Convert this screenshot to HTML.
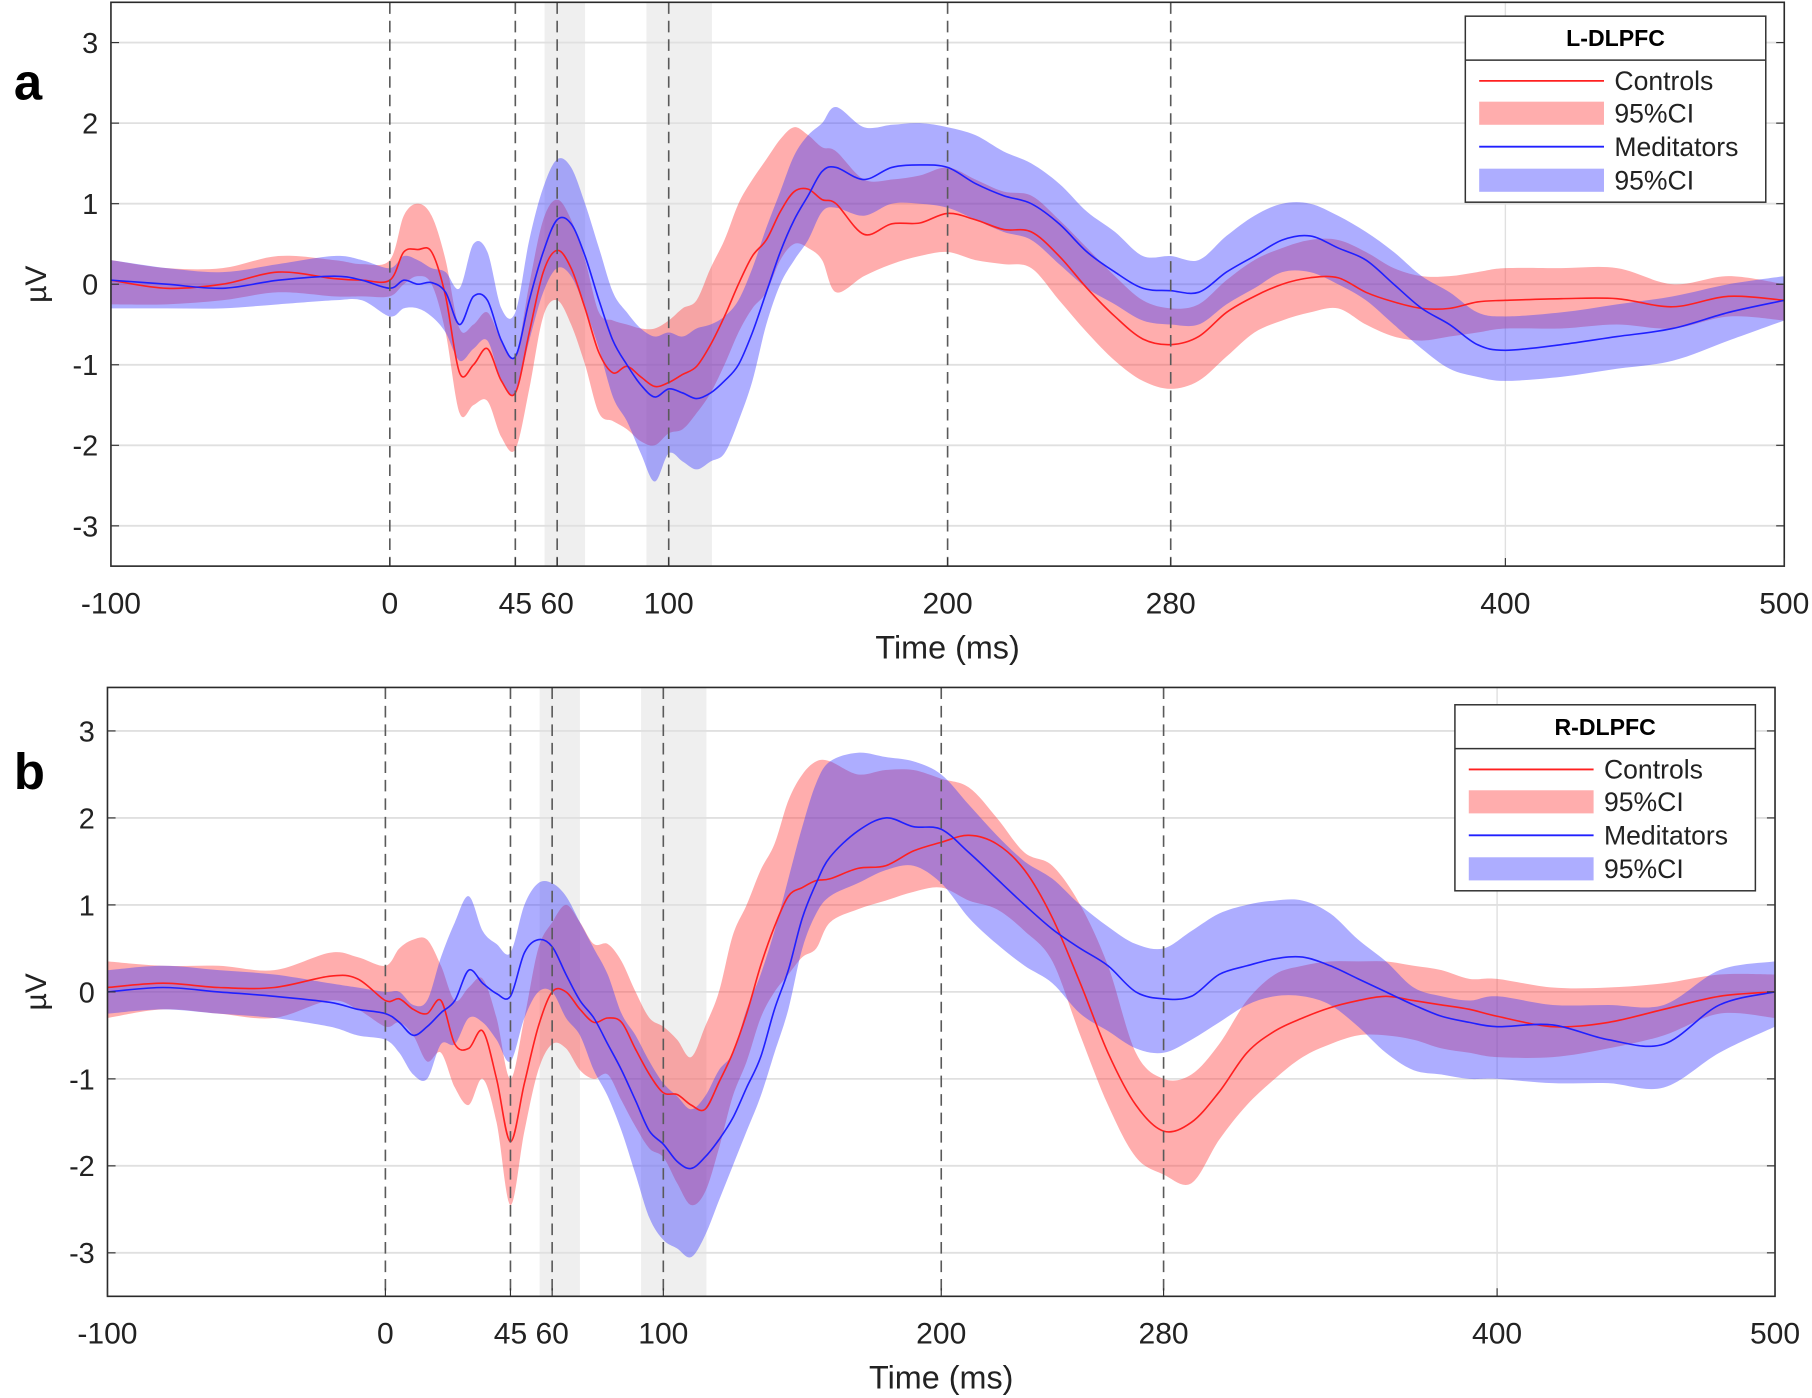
<!DOCTYPE html>
<html><head><meta charset="utf-8"><style>
html,body{margin:0;padding:0;background:#fff;}
svg{display:block;font-family:"Liberation Sans",Arial,sans-serif;}
</style></head><body>
<svg id="fig" width="1812" height="1398" viewBox="0 0 1568 1210" preserveAspectRatio="none" xmlns="http://www.w3.org/2000/svg"></svg>
<script>
const T=[-100,-80,-60,-40,-20,-10,0,5,10,15,20,25,30,35,40,45,50,55,60,65,70,75,80,85,90,95,100,105,110,115,120,125,130,135,140,145,150,155,160,170,180,190,200,210,220,230,240,250,260,270,280,290,300,310,320,330,340,350,360,370,380,390,400,420,440,460,480,500];
const xTicks=[-100,0,45,60,100,200,280,400,500];
const dashedTimes=[0,45,60,100,200,280];
const yTicks=[-3,-2,-1,0,1,2,3];
// Panel a
const aCtrl=[0.05,-0.05,0.0,0.15,0.07,0.05,0.05,0.4,0.43,0.4,-0.15,-1.1,-1.0,-0.8,-1.2,-1.35,-0.6,0.15,0.42,0.2,-0.3,-0.85,-1.1,-1.02,-1.15,-1.27,-1.22,-1.12,-1.02,-0.75,-0.4,0.0,0.35,0.55,0.9,1.15,1.18,1.05,1.0,0.62,0.75,0.76,0.88,0.8,0.68,0.65,0.35,-0.05,-0.4,-0.68,-0.75,-0.65,-0.35,-0.15,0.0,0.08,0.08,-0.1,-0.22,-0.3,-0.3,-0.22,-0.2,-0.18,-0.18,-0.28,-0.15,-0.2];
const aCtrlLo=[-0.25,-0.25,-0.2,-0.1,-0.15,-0.15,-0.15,0.0,0.1,0.0,-0.6,-1.6,-1.5,-1.45,-1.9,-2.05,-1.3,-0.4,-0.2,-0.5,-1.0,-1.6,-1.7,-1.8,-1.95,-2.0,-1.85,-1.8,-1.6,-1.35,-1.0,-0.6,-0.3,-0.1,0.3,0.5,0.45,0.3,-0.1,0.1,0.25,0.35,0.4,0.3,0.25,0.2,-0.2,-0.6,-0.95,-1.2,-1.3,-1.2,-0.9,-0.6,-0.45,-0.35,-0.3,-0.5,-0.65,-0.7,-0.65,-0.6,-0.55,-0.55,-0.5,-0.55,-0.4,-0.45];
const aCtrlHi=[0.3,0.2,0.2,0.35,0.3,0.25,0.3,0.85,1.0,0.85,0.3,-0.55,-0.5,-0.35,-0.7,-0.9,0.0,0.8,1.05,0.8,0.3,-0.35,-0.45,-0.5,-0.55,-0.55,-0.45,-0.3,-0.2,0.2,0.55,1.0,1.3,1.55,1.8,1.95,1.85,1.7,1.65,1.3,1.3,1.35,1.45,1.3,1.15,1.1,0.8,0.45,0.1,-0.2,-0.3,-0.25,0.05,0.3,0.45,0.55,0.55,0.4,0.2,0.1,0.1,0.15,0.2,0.2,0.2,0.0,0.1,0.0];
const aMed=[0.05,0.0,-0.05,0.05,0.1,0.05,-0.05,0.05,0.0,0.02,-0.1,-0.5,-0.15,-0.2,-0.7,-0.9,-0.2,0.4,0.8,0.75,0.35,-0.2,-0.7,-1.0,-1.25,-1.4,-1.3,-1.35,-1.42,-1.35,-1.2,-1.0,-0.6,-0.1,0.4,0.8,1.1,1.4,1.45,1.3,1.45,1.48,1.45,1.25,1.1,1.0,0.75,0.4,0.15,-0.05,-0.08,-0.1,0.15,0.35,0.55,0.6,0.45,0.3,0.0,-0.3,-0.5,-0.75,-0.82,-0.75,-0.65,-0.55,-0.35,-0.2];
const aMedLo=[-0.3,-0.3,-0.3,-0.25,-0.2,-0.2,-0.4,-0.3,-0.3,-0.4,-0.6,-0.95,-0.8,-0.7,-1.2,-1.35,-0.7,-0.1,0.2,0.1,-0.3,-0.8,-1.4,-1.7,-2.1,-2.45,-2.1,-2.2,-2.3,-2.2,-2.1,-1.7,-1.2,-0.5,0.0,0.3,0.55,0.9,0.95,0.85,1.0,1.0,0.95,0.8,0.65,0.55,0.25,-0.05,-0.25,-0.45,-0.5,-0.5,-0.25,-0.05,0.15,0.15,0.0,-0.2,-0.5,-0.8,-1.05,-1.15,-1.2,-1.15,-1.05,-0.95,-0.7,-0.45];
const aMedHi=[0.3,0.2,0.15,0.25,0.35,0.3,0.2,0.35,0.3,0.2,0.15,-0.05,0.5,0.4,-0.3,-0.35,0.55,1.2,1.55,1.45,1.0,0.45,-0.1,-0.35,-0.55,-0.65,-0.6,-0.65,-0.55,-0.5,-0.4,-0.2,0.2,0.7,1.15,1.6,1.85,2.0,2.2,1.95,1.98,2.0,1.95,1.85,1.65,1.5,1.25,0.9,0.65,0.35,0.35,0.3,0.6,0.85,1.0,1.0,0.85,0.65,0.4,0.1,-0.1,-0.35,-0.4,-0.35,-0.25,-0.15,0.0,0.1];
// Panel b
const bCtrl=[0.05,0.1,0.05,0.05,0.18,0.15,-0.1,-0.08,-0.2,-0.25,-0.1,-0.6,-0.65,-0.45,-1.0,-1.72,-1.05,-0.4,0.0,0.0,-0.2,-0.35,-0.3,-0.35,-0.66,-0.95,-1.16,-1.18,-1.3,-1.35,-1.04,-0.7,-0.25,0.3,0.75,1.1,1.2,1.28,1.3,1.42,1.45,1.62,1.72,1.8,1.7,1.4,0.85,0.1,-0.7,-1.3,-1.6,-1.5,-1.15,-0.7,-0.45,-0.3,-0.18,-0.1,-0.05,-0.1,-0.15,-0.2,-0.28,-0.4,-0.35,-0.2,-0.05,0.0];
const bCtrlLo=[-0.3,-0.2,-0.25,-0.3,-0.1,-0.2,-0.4,-0.35,-0.5,-0.8,-0.7,-1.1,-1.3,-1.0,-1.5,-2.45,-1.6,-0.9,-0.6,-0.65,-0.9,-1.0,-0.95,-1.25,-1.55,-1.8,-1.9,-2.2,-2.45,-2.3,-1.8,-1.2,-0.8,-0.3,0.0,0.2,0.4,0.5,0.8,0.95,1.05,1.15,1.2,1.05,0.95,0.7,0.35,-0.5,-1.3,-1.9,-2.1,-2.2,-1.7,-1.3,-1.0,-0.75,-0.6,-0.5,-0.5,-0.55,-0.65,-0.7,-0.75,-0.75,-0.65,-0.5,-0.25,-0.3];
const bCtrlHi=[0.35,0.3,0.3,0.25,0.45,0.4,0.3,0.5,0.6,0.6,0.3,-0.1,0.05,0.15,-0.3,-1.0,-0.3,0.5,0.8,1.0,0.8,0.55,0.55,0.35,0.0,-0.3,-0.4,-0.55,-0.75,-0.4,0.0,0.65,1.0,1.4,1.7,2.2,2.5,2.65,2.65,2.5,2.55,2.55,2.45,2.35,2.0,1.6,1.45,1.0,0.3,-0.7,-1.0,-0.95,-0.6,-0.1,0.2,0.3,0.35,0.35,0.35,0.3,0.25,0.15,0.15,0.05,0.05,0.1,0.2,0.2];
const bMed=[0.0,0.05,0.0,-0.05,-0.12,-0.2,-0.25,-0.35,-0.5,-0.4,-0.24,-0.1,0.25,0.1,-0.02,-0.05,0.45,0.6,0.52,0.2,-0.1,-0.3,-0.6,-0.9,-1.25,-1.6,-1.75,-1.95,-2.03,-1.9,-1.7,-1.45,-1.1,-0.75,-0.2,0.25,0.85,1.25,1.55,1.85,2.0,1.9,1.87,1.6,1.3,1.0,0.72,0.5,0.3,0.0,-0.08,-0.05,0.2,0.3,0.38,0.4,0.3,0.15,0.0,-0.15,-0.28,-0.35,-0.4,-0.38,-0.55,-0.6,-0.15,0.0];
const bMedLo=[-0.25,-0.2,-0.25,-0.3,-0.4,-0.5,-0.55,-0.7,-0.95,-1.0,-0.6,-0.6,-0.3,-0.35,-0.55,-0.8,-0.3,0.0,0.0,-0.3,-0.5,-0.9,-1.2,-1.6,-2.1,-2.6,-2.85,-2.95,-3.05,-2.8,-2.4,-2.0,-1.6,-1.2,-0.7,-0.2,0.5,0.9,1.1,1.25,1.4,1.45,1.25,0.85,0.55,0.3,0.1,-0.25,-0.45,-0.65,-0.7,-0.55,-0.35,-0.15,-0.05,-0.05,-0.15,-0.4,-0.7,-0.9,-0.95,-1.0,-1.0,-1.05,-1.05,-1.1,-0.7,-0.4];
const bMedHi=[0.25,0.3,0.25,0.2,0.1,0.05,0.0,0.0,-0.15,-0.1,0.4,0.8,1.1,0.7,0.55,0.45,1.0,1.25,1.25,1.1,0.8,0.5,0.2,-0.25,-0.5,-0.8,-1.05,-1.2,-1.35,-1.2,-0.9,-0.7,-0.2,0.2,0.7,1.3,1.9,2.4,2.65,2.75,2.7,2.65,2.5,2.15,1.8,1.5,1.3,1.0,0.75,0.55,0.5,0.7,0.9,1.0,1.05,1.05,0.9,0.6,0.35,0.05,-0.05,-0.1,-0.05,-0.15,-0.15,-0.15,0.25,0.35];

const NS="http://www.w3.org/2000/svg";
const svg=document.getElementById('fig');
function mk(tag,attrs,parent){const e=document.createElementNS(NS,tag);for(const k in attrs)e.setAttribute(k,attrs[k]);(parent||svg).appendChild(e);return e;}
function curve(pts){let d='M'+pts[0][0].toFixed(1)+','+pts[0][1].toFixed(1);
 for(let i=0;i<pts.length-1;i++){const p0=pts[Math.max(0,i-1)],p1=pts[i],p2=pts[i+1],p3=pts[Math.min(pts.length-1,i+2)];
  const c1=[p1[0]+(p2[0]-p0[0])/6,p1[1]+(p2[1]-p0[1])/6],c2=[p2[0]-(p3[0]-p1[0])/6,p2[1]-(p3[1]-p1[1])/6];
  d+='C'+c1[0].toFixed(1)+','+c1[1].toFixed(1)+' '+c2[0].toFixed(1)+','+c2[1].toFixed(1)+' '+p2[0].toFixed(1)+','+p2[1].toFixed(1);}
 return d;}
function curveCont(pts){return curve(pts).replace(/^M/,'L');}

function panel(cfg){
 const {id,L,R,Tp,B,letter,letterY,title,lgx,lgy,ctrl,ctrlLo,ctrlHi,med,medLo,medHi}=cfg;
 const g=mk('g',{});
 
 
 const X=t=>L+(t+100)*(R-L)/600;
 const Y=v=>Tp+(3.5-v)*(B-Tp)/7;
 mk('rect',{x:L,y:Tp,width:R-L,height:B-Tp,fill:'#fff'},g);
 [[55.5,70],[92,115.5]].forEach(w=>{const r=mk('rect',{x:X(w[0]),y:Tp,width:X(w[1])-X(w[0]),height:B-Tp,fill:'#efefef'},g);
  
  });
 yTicks.forEach(v=>{mk('line',{x1:L,x2:R,y1:Y(v),y2:Y(v),stroke:'#e0e0e0','stroke-width':1.6},g);});
 [400].forEach(t=>mk('line',{x1:X(t),x2:X(t),y1:Tp,y2:B,stroke:'#e0e0e0','stroke-width':1.2},g));
 const cid='clip'+id;const cp=mk('clipPath',{id:cid},g);mk('rect',{x:L,y:Tp,width:R-L,height:B-Tp},cp);
 const pg=mk('g',{'clip-path':'url(#'+cid+')'},g);
 function band(lo,hi,fill,name){const up=T.map((t,i)=>[X(t),Y(hi[i])]);const dn=T.map((t,i)=>[X(t),Y(lo[i])]).reverse();
  const p=mk('path',{d:curve(up)+curveCont(dn)+'Z',fill:fill},pg);
  
  }
 function line(vals,col,name){const p=mk('path',{d:curve(T.map((t,i)=>[X(t),Y(vals[i])])),fill:'none',stroke:col,'stroke-width':1.4},pg);
  
  }
 band(ctrlLo,ctrlHi,'rgba(255,60,60,0.42)','controls-ci-band');
 band(medLo,medHi,'rgba(60,60,255,0.42)','meditators-ci-band');
 dashedTimes.forEach(t=>{const l=mk('line',{x1:X(t),x2:X(t),y1:Tp,y2:B,stroke:'#5a5a5a','stroke-width':1.4,'stroke-dasharray':'10,6'},g);
  
  });
 line(ctrl,'#ff2020','controls-mean-line');
 line(med,'#2020ff','meditators-mean-line');
 mk('rect',{x:L,y:Tp,width:R-L,height:B-Tp,fill:'none',stroke:'#2a2a2a','stroke-width':1.4},g);
 yTicks.forEach(v=>{mk('line',{x1:L,x2:L+7,y1:Y(v),y2:Y(v),stroke:'#333'},g);mk('line',{x1:R-7,x2:R,y1:Y(v),y2:Y(v),stroke:'#333'},g);
  const t=mk('text',{x:L-11,y:Y(v)+9,'text-anchor':'end','font-size':25,fill:'#222'},g);t.textContent=v;
  
  });
 xTicks.forEach(v=>{mk('line',{x1:X(v),x2:X(v),y1:B-7,y2:B,stroke:'#333'},g);
  const t=mk('text',{x:X(v),y:B+41,'text-anchor':'middle','font-size':26,fill:'#222'},g);t.textContent=v;
  
  });
 const xt=mk('text',{x:X(200),y:B+80,'text-anchor':'middle','font-size':28,fill:'#222'},g);xt.textContent='Time (ms)';
 
 
 const yc=(Tp+B)/2;
 const yt=mk('text',{x:40,y:yc,'text-anchor':'middle','font-size':26,fill:'#222',transform:'rotate(-90 40 '+yc+')'},g);yt.textContent='µV';
 
 
 const lt=mk('text',{x:12,y:letterY,'font-size':44,'font-weight':'bold',fill:'#000'},g);lt.textContent=letter;
 
 
 const lg=mk('g',{transform:'translate('+lgx+','+lgy+')'},g);
 
 
 mk('rect',{x:0,y:0,width:260,height:161,fill:'#fff',stroke:'#333','stroke-width':1.3},lg);
 mk('line',{x1:0,x2:260,y1:38,y2:38,stroke:'#333','stroke-width':1.3},lg);
 const tt=mk('text',{x:130,y:26,'text-anchor':'middle','font-size':20,'font-weight':'bold',fill:'#000'},lg);tt.textContent=title;
 
 
 const ents=[['line','#ff2020','Controls',56],['patch','rgba(255,60,60,0.42)','95%CI',84],['line','#2020ff','Meditators',113],['patch','rgba(60,60,255,0.42)','95%CI',142]];
 ents.forEach(e=>{const eg=mk('g',{},lg);
  
  
  if(e[0]==='line')mk('line',{x1:12,x2:120,y1:e[3],y2:e[3],stroke:e[1],'stroke-width':1.6},eg);
  else mk('rect',{x:12,y:e[3]-10,width:108,height:20,fill:e[1]},eg);
  const tx=mk('text',{x:129,y:e[3]+8,'font-size':23,fill:'#222'},eg);tx.textContent=e[2];});
}
panel({id:'a',L:96,R:1544,Tp:2,B:490,letter:'a',letterY:86,title:'L-DLPFC',lgx:1268,lgy:14,ctrl:aCtrl,ctrlLo:aCtrlLo,ctrlHi:aCtrlHi,med:aMed,medLo:aMedLo,medHi:aMedHi});
panel({id:'b',L:93,R:1536,Tp:595,B:1122,letter:'b',letterY:683,title:'R-DLPFC',lgx:1259,lgy:610,ctrl:bCtrl,ctrlLo:bCtrlLo,ctrlHi:bCtrlHi,med:bMed,medLo:bMedLo,medHi:bMedHi});
</script>
</body></html>
